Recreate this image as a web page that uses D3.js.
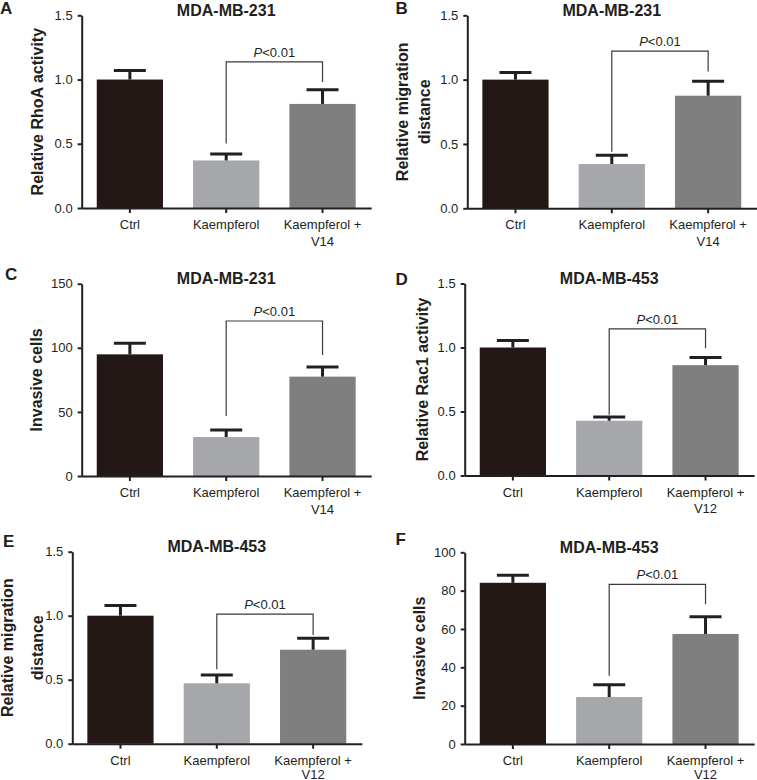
<!DOCTYPE html>
<html><head><meta charset="utf-8">
<script src="https://cdn.jsdelivr.net/npm/d3@7"></script>
<style>body{margin:0;background:#fff} svg{display:block}</style>
</head><body>
<svg id="chart" width="757" height="780"></svg>
<script>
// ---------- data ----------
const groups231 = ["Ctrl", "Kaempferol", "Kaempferol +|V14"];
const groups453 = ["Ctrl", "Kaempferol", "Kaempferol +|V12"];

const rhoaMean   = [1.00, 0.37, 0.81];
const rhoaSem    = [0.07, 0.05, 0.11];
const mig231Mean = [1.00, 0.344, 0.875];
const mig231Sem  = [0.055, 0.068, 0.112];
const inv231Mean = [94.9, 30.4, 77.5];
const inv231Sem  = [8.6, 5.5, 7.5];
const rac1Mean   = [1.00, 0.428, 0.862];
const rac1Sem    = [0.054, 0.029, 0.059];
const mig453Mean = [1.00, 0.472, 0.734];
const mig453Sem  = [0.08, 0.065, 0.089];
const inv453Mean = [84.1, 24.5, 57.4];
const inv453Sem  = [3.9, 6.4, 9.0];

const ticksRel = [0, 0.5, 1.0, 1.5];
const ticks150 = [0, 50, 100, 150];
const ticks100 = [0, 20, 40, 60, 80, 100];

// significance brackets: [bar height, left leg end, right leg end] (data units)
const rhoaBracket   = [1.137, 0.503, 0.981];
const mig231Bracket = [1.222, 0.440, 1.064];
const inv231Bracket = [120.9, 46.8, 94.4];
const rac1Bracket   = [1.145, 0.475, 0.995];
const mig453Bracket = [1.013, 0.581, 0.849];
const inv453Bracket = [83.3, 35.6, 72.9];
const pLabel = "<0.01";

const titles = ["MDA-MB-231", "MDA-MB-231", "MDA-MB-231", "MDA-MB-453", "MDA-MB-453", "MDA-MB-453"];
const yLabels = [
  ["Relative RhoA activity"],
  ["Relative migration", "distance"],
  ["Invasive cells"],
  ["Relative Rac1 activity"],
  ["Relative migration", "distance"],
  ["Invasive cells"]
];
const letters = ["A", "B", "C", "D", "E", "F"];

const panelsData = [
  {groups: groups231, mean: rhoaMean,   sem: rhoaSem,   ticks: ticksRel, max: 1.5, fmt: ".1f", br: rhoaBracket},
  {groups: groups231, mean: mig231Mean, sem: mig231Sem, ticks: ticksRel, max: 1.5, fmt: ".1f", br: mig231Bracket},
  {groups: groups231, mean: inv231Mean, sem: inv231Sem, ticks: ticks150, max: 150, fmt: "d",   br: inv231Bracket},
  {groups: groups453, mean: rac1Mean,   sem: rac1Sem,   ticks: ticksRel, max: 1.5, fmt: ".1f", br: rac1Bracket},
  {groups: groups453, mean: mig453Mean, sem: mig453Sem, ticks: ticksRel, max: 1.5, fmt: ".1f", br: mig453Bracket},
  {groups: groups453, mean: inv453Mean, sem: inv453Sem, ticks: ticks100, max: 100, fmt: "d",   br: inv453Bracket}
];

// ---------- layout ----------
const layout = [
  {x0: 81.7,  top: 15.3,  bottom: 208,   ly: [-39.2],        lX: 0,     lY: 14},
  {x0: 467.3, top: 15.3,  bottom: 208.3, ly: [-59.3, -37.3], lX: 395.5, lY: 14},
  {x0: 81.7,  top: 283.7, bottom: 476,   ly: [-39.4],        lX: 5,     lY: 280},
  {x0: 464.7, top: 283.5, bottom: 475.5, ly: [-36.4],        lX: 395.5, lY: 285},
  {x0: 72.3,  top: 551.7, bottom: 743.7, ly: [-59.7, -29.3], lX: 3,     lY: 547},
  {x0: 464.7, top: 552.3, bottom: 744,   ly: [-40.2],        lX: 395.5, lY: 545}
];

const ink = "#231f20";
const barColors = ["#231816", "#a6a7aa", "#7f7f7f"];
const font = "'Liberation Sans', Arial, Helvetica, sans-serif";

const svg = d3.select("#chart").style("font-family", font);

panelsData.forEach((p, i) => {
  const L = layout[i];
  const g = svg.append("g");

  const x = d3.scaleBand().domain(p.groups).range([L.x0, L.x0 + 289])
    .paddingInner(0.3125).paddingOuter(0.15625);
  const y = d3.scaleLinear().domain([0, p.max]).range([L.bottom, L.top]);

  // bars
  g.selectAll("rect.bar").data(p.groups).join("rect")
    .attr("x", d => x(d)).attr("width", x.bandwidth())
    .attr("y", (d, j) => y(p.mean[j]))
    .attr("height", (d, j) => y(0) - y(p.mean[j]))
    .attr("fill", (d, j) => barColors[j]);

  // error bars
  const cx = d => x(d) + x.bandwidth() / 2;
  g.selectAll("line.stem").data(p.groups).join("line")
    .attr("x1", cx).attr("x2", cx)
    .attr("y1", (d, j) => y(p.mean[j]))
    .attr("y2", (d, j) => y(p.mean[j] + p.sem[j]))
    .attr("stroke", ink).attr("stroke-width", 3);
  g.selectAll("line.cap").data(p.groups).join("line")
    .attr("x1", d => cx(d) - 16).attr("x2", d => cx(d) + 16)
    .attr("y1", (d, j) => y(p.mean[j] + p.sem[j]))
    .attr("y2", (d, j) => y(p.mean[j] + p.sem[j]))
    .attr("stroke", ink).attr("stroke-width", 3);

  // y axis
  const ya = g.append("g").attr("transform", `translate(${L.x0},0)`)
    .call(d3.axisLeft(y).tickValues(p.ticks).tickSize(4).tickPadding(5)
      .tickSizeOuter(0).tickFormat(d3.format(p.fmt)));
  ya.select(".domain").attr("stroke", ink).attr("stroke-width", 2);
  ya.selectAll(".tick line").attr("stroke", ink).attr("stroke-width", 2);
  ya.selectAll(".tick text").attr("fill", ink).style("font-size", "13px").style("font-family", font);

  // x axis
  const xa = g.append("g").attr("transform", `translate(0,${L.bottom})`)
    .call(d3.axisBottom(x).tickSize(5).tickSizeOuter(0).tickFormat(""));
  xa.select(".domain").attr("stroke", ink).attr("stroke-width", 2)
    .attr("d", `M${L.x0},0.5H${L.x0 + 290}`);
  xa.selectAll(".tick line").attr("stroke", ink).attr("stroke-width", 2);

  // category labels
  p.groups.forEach(gr => {
    const t = g.append("text").attr("text-anchor", "middle").attr("fill", ink)
      .style("font-size", "13px");
    gr.split("|").forEach((line, k) => {
      const yy = Math.min(L.bottom + 21 + k * 16.5, 778.5);
      t.append("tspan").attr("x", cx(gr)).attr("y", yy).text(line);
    });
  });

  // y label
  yLabels[i].forEach((line, k) => {
    g.append("text")
      .attr("transform", `translate(${L.x0 + L.ly[k]},${(L.top + L.bottom) / 2}) rotate(-90)`)
      .attr("text-anchor", "middle").attr("fill", ink)
      .style("font-size", "16px").style("font-weight", "bold").text(line);
  });

  // title
  g.append("text").attr("x", cx(p.groups[1])).attr("y", L.top + 0.5)
    .attr("text-anchor", "middle").attr("fill", ink)
    .style("font-size", "16px").style("font-weight", "bold").text(titles[i]);

  // panel letter
  g.append("text").attr("x", L.lX).attr("y", L.lY).attr("fill", ink)
    .style("font-size", "17px").style("font-weight", "bold").text(letters[i]);

  // bracket
  const xl = cx(p.groups[1]), xr = cx(p.groups[2]);
  g.append("path")
    .attr("d", `M${xl},${y(p.br[1])}V${y(p.br[0])}H${xr}V${y(p.br[2])}`)
    .attr("fill", "none").attr("stroke", "#3a3a3a").attr("stroke-width", 1.2);
  const pt = g.append("text").attr("x", (xl + xr) / 2).attr("y", y(p.br[0]) - 5)
    .attr("text-anchor", "middle").attr("fill", ink).style("font-size", "13px");
  pt.append("tspan").style("font-style", "italic").text("P");
  pt.append("tspan").text(pLabel);
});
</script>
</body></html>
